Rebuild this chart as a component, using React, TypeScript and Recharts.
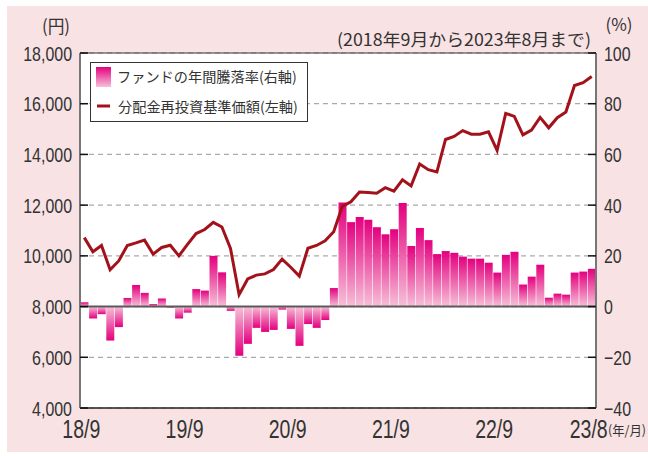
import {
  ComposedChart,
  Bar,
  Line,
  XAxis,
  YAxis,
  CartesianGrid,
  ReferenceLine,
  Legend,
  Cell,
} from 'recharts';

// 2018/9 .. 2023/8, monthly
const months: string[] = Array.from({ length: 60 }, (_, i) => {
  const t = 8 + i;
  return `${18 + Math.floor(t / 12)}/${(t % 12) + 1}`;
});

// ファンドの年間騰落率 (%), right axis
const fundReturn = [
  1.7, -4.7, -3.0, -13.4, -8.1, 3.4, 8.5, 5.4, 1.0, 3.2, -0.4, -4.7,
  -2.4, 6.9, 6.3, 20.0, 13.5, -1.7, -19.4, -14.7, -8.4, -10.0, -9.2, -1.2,
  -8.8, -15.5, -6.9, -8.4, -5.3, 7.3, 41.0, 33.3, 35.3, 34.2, 31.3, 28.5,
  30.5, 40.8, 23.9, 31.0, 26.2, 20.7, 21.9, 21.2, 19.7, 18.9, 18.9, 17.3,
  13.4, 20.4, 21.6, 8.7, 11.8, 16.5, 3.5, 5.1, 4.7, 13.4, 13.8, 14.9,
];

// 分配金再投資基準価額 (円), left axis
const navReinvested = [
  10720, 10160, 10410, 9450, 9800, 10410, 10510, 10620, 10070, 10330, 10420, 10000,
  10450, 10880, 11040, 11320, 11140, 10290, 8470, 9090, 9240, 9290, 9460, 9870,
  9550, 9200, 10300, 10410, 10590, 10950, 11950, 12130, 12520, 12500, 12470, 12690,
  12550, 13000, 12760, 13620, 13400, 13310, 14590, 14710, 14940, 14800, 14800, 14890,
  14160, 15620, 15500, 14770, 14960, 15460, 15050, 15450, 15670, 16720, 16830, 17070,
];

const xTicks = ['18/9', '19/9', '20/9', '21/9', '22/9', '23/8'];
const leftTicks = [4000, 6000, 8000, 10000, 12000, 14000, 16000, 18000];
const rightTicks = [-40, -20, 0, 20, 40, 60, 80, 100];

const data = months.map((m, i) => ({
  month: m,
  ret: fundReturn[i],
  nav: navReinvested[i],
}));

const NUM_FONT = "'Liberation Sans', Arial, sans-serif";
const JP_FONT = "'Noto Sans CJK JP', sans-serif";
const TEXT = '#333';
const LINE_RED = '#a3121a';
const PINK_DARK = '#e4007f';
const PINK_LIGHT = '#f6c0d8';

const fmtYen = (v: number) => v.toLocaleString('en-US');
const fmtPct = (v: number) => (v < 0 ? `\u2212${-v}` : String(v));

function LeftTick({ x, y, payload }: any) {
  return (
    <g>
      <line x1={x + 8} x2={x + 16} y1={y} y2={y} stroke="#111" strokeWidth={1.5} />
      <text
        transform={`translate(${x},${y}) scale(0.76,1)`}
        textAnchor="end"
        dy="0.36em"
        fontSize={21}
        fontFamily={NUM_FONT}
        fill={TEXT}
      >
        {fmtYen(payload.value)}
      </text>
    </g>
  );
}

function RightTick({ x, y, payload }: any) {
  return (
    <g>
      <line x1={x - 8} x2={x - 16} y1={y} y2={y} stroke="#111" strokeWidth={1.5} />
      <text
        transform={`translate(${x},${y}) scale(0.76,1)`}
        textAnchor="start"
        dy="0.36em"
        fontSize={21}
        fontFamily={NUM_FONT}
        fill={TEXT}
      >
        {fmtPct(payload.value)}
      </text>
    </g>
  );
}

function BottomTick({ x, y, payload }: any) {
  return (
    <text
      transform={`translate(${x - 3},${y}) scale(0.78,1)`}
      textAnchor="middle"
      dy="0.71em"
      fontSize={25}
      fontFamily={NUM_FONT}
      fill={TEXT}
    >
      {payload.value}
    </text>
  );
}

function LegendBox() {
  return (
    <svg width={218} height={60} style={{ display: 'block', overflow: 'visible' }}>
      <defs>
        <linearGradient id="legSwatch" x1="0" y1="0" x2="0" y2="1">
          <stop offset="0%" stopColor={PINK_DARK} />
          <stop offset="100%" stopColor={PINK_LIGHT} />
        </linearGradient>
      </defs>
      <rect x={0.5} y={0.5} width={217} height={59} fill="#fff" stroke="#333" />
      <rect x={6} y={5} width={15} height={20} fill="url(#legSwatch)" />
      <text x={27} y={15} dy="0.36em" fontSize={14.2} fontFamily={JP_FONT} fill={TEXT}>
        ファンドの年間騰落率(右軸)
      </text>
      <line x1={7} x2={20} y1={44} y2={44} stroke={LINE_RED} strokeWidth={3} />
      <text x={28} y={45} dy="0.36em" fontSize={14.2} fontFamily={JP_FONT} fill={TEXT}>
        分配金再投資基準価額(左軸)
      </text>
    </svg>
  );
}

export default function App() {
  return (
    <div style={{ position: 'absolute', left: 0, top: 0, width: 648, height: 456, background: '#fff' }}>
      <div style={{ position: 'absolute', left: 7, top: 6, right: 0, bottom: 4, background: '#f8e2e3' }} />
      <div style={{ position: 'absolute', left: 0, top: 0 }}>
        <ComposedChart
          width={648}
          height={456}
          data={data}
          margin={{ top: 53, right: 0, bottom: 0, left: 0 }}
          barCategoryGap={0.5}
        >
          <defs>
            <linearGradient id="barPos" x1="0" y1="0" x2="0" y2="1">
              <stop offset="0%" stopColor={PINK_DARK} />
              <stop offset="100%" stopColor={PINK_LIGHT} />
            </linearGradient>
            <linearGradient id="barNeg" x1="0" y1="0" x2="0" y2="1">
              <stop offset="0%" stopColor={PINK_LIGHT} />
              <stop offset="100%" stopColor={PINK_DARK} />
            </linearGradient>
          </defs>
          <CartesianGrid
            yAxisId="left"
            vertical={false}
            stroke="#aaa"
            strokeWidth={1.2}
            strokeDasharray="5 4"
            fill="#fff"
          />
          <XAxis
            dataKey="month"
            ticks={xTicks}
            interval={0}
            height={48}
            tickSize={0}
            tickMargin={12}
            tick={<BottomTick />}
            axisLine={{ stroke: '#222', strokeWidth: 1.5 }}
            tickLine={false}
          />
          <YAxis
            yAxisId="left"
            orientation="left"
            width={80}
            domain={[4000, 18000]}
            ticks={leftTicks}
            allowDataOverflow
            tickSize={0}
            tickMargin={8}
            tick={<LeftTick />}
            tickLine={false}
            axisLine={{ stroke: '#777', strokeWidth: 2 }}
          />
          <YAxis
            yAxisId="right"
            orientation="right"
            width={52}
            domain={[-40, 100]}
            ticks={rightTicks}
            allowDataOverflow
            tickSize={0}
            tickMargin={8}
            tick={<RightTick />}
            tickLine={false}
            axisLine={{ stroke: '#777', strokeWidth: 2 }}
          />
          <Legend
            layout="vertical"
            align="center"
            verticalAlign="middle"
            content={() => <LegendBox />}
            wrapperStyle={{ left: 90, top: 62, width: 218, height: 60, overflow: 'visible' }}
          />
          <Bar yAxisId="right" dataKey="ret" isAnimationActive={false}>
            {data.map((d, i) => (
              <Cell key={i} fill={d.ret >= 0 ? 'url(#barPos)' : 'url(#barNeg)'} />
            ))}
          </Bar>
          <ReferenceLine yAxisId="right" y={0} stroke="#5a5a5a" strokeWidth={2} />
          <ReferenceLine yAxisId="left" y={18000} stroke="#333" strokeWidth={1} />
          <Line
            yAxisId="left"
            type="linear"
            dataKey="nav"
            stroke={LINE_RED}
            strokeWidth={3}
            dot={false}
            isAnimationActive={false}
          />
        </ComposedChart>
      </div>
      <svg
        width={648}
        height={456}
        style={{ position: 'absolute', left: 0, top: 0, pointerEvents: 'none' }}
      >
        <text x={56} y={27} dy="0.36em" textAnchor="middle" fontSize={18} fontFamily={JP_FONT} fill={TEXT}
          textLength={28} lengthAdjust="spacingAndGlyphs">
          (円)
        </text>
        <text x={619} y={25} dy="0.36em" textAnchor="middle" fontSize={17} fontFamily={JP_FONT} fill={TEXT}
          textLength={27} lengthAdjust="spacingAndGlyphs">
          (%)
        </text>
        <text x={591} y={40} dy="0.36em" textAnchor="end" fontSize={17} fontFamily={JP_FONT} fill={TEXT}
          textLength={254} lengthAdjust="spacingAndGlyphs">
          (2018年9月から2023年8月まで)
        </text>
        <text x={608} y={430} dy="0.36em" textAnchor="start" fontSize={13} fontFamily={JP_FONT} fill={TEXT}
          textLength={38} lengthAdjust="spacingAndGlyphs">
          (年/月)
        </text>
      </svg>
    </div>
  );
}
